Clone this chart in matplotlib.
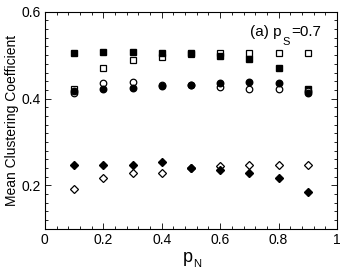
import matplotlib
matplotlib.use("Agg")
import matplotlib.pyplot as plt
from matplotlib.ticker import MultipleLocator

plt.rcParams['font.family'] = ['Liberation Sans', 'DejaVu Sans']

pN = [0.1, 0.2, 0.3, 0.4, 0.5, 0.6, 0.7, 0.8, 0.9]
sq_filled = [0.505, 0.508, 0.508, 0.504, 0.504, 0.498, 0.490, 0.471, 0.423]
sq_open = [0.422, 0.471, 0.489, 0.496, 0.503, 0.506, 0.506, 0.506, 0.506]
ci_filled = [0.418, 0.421, 0.425, 0.429, 0.431, 0.435, 0.438, 0.436, 0.413]
ci_open = [0.412, 0.435, 0.438, 0.432, 0.431, 0.426, 0.423, 0.421, 0.418]
di_filled = [0.246, 0.246, 0.246, 0.254, 0.240, 0.236, 0.229, 0.216, 0.185]
di_open = [0.191, 0.216, 0.229, 0.229, 0.240, 0.244, 0.246, 0.246, 0.248]

W, H = 345, 273
fig = plt.figure(figsize=(W / 100, H / 100), dpi=100)
ax = fig.add_axes([0.130, 0.162, 0.847, 0.795])

ms = 4.3
ax.plot(pN, sq_open, 's', mfc='white', mec='black', ms=ms, mew=0.9, ls='none')
ax.plot(pN, sq_filled, 's', mfc='black', mec='black', ms=ms, ls='none')
ax.plot(pN, ci_open, 'o', mfc='white', mec='black', ms=ms + 0.4, mew=0.9, ls='none')
ax.plot(pN, ci_filled, 'o', mfc='black', mec='black', ms=ms + 0.4, ls='none')
ax.plot(pN, di_open, 'D', mfc='white', mec='black', ms=ms - 0.6, mew=0.9, ls='none')
ax.plot(pN, di_filled, 'D', mfc='black', mec='black', ms=ms - 0.6, ls='none')

ax.set_xlim(0, 1)
ax.set_ylim(0.1, 0.6)
ax.set_xticks([0, 0.2, 0.4, 0.6, 0.8, 1])
ax.set_xticklabels(['0', '0.2', '0.4', '0.6', '0.8', '1'])
ax.set_yticks([0.2, 0.4, 0.6])
ax.set_yticklabels(['0.2', '0.4', '0.6'])
ax.xaxis.set_minor_locator(MultipleLocator(0.04))
ax.yaxis.set_minor_locator(MultipleLocator(0.02))
ax.tick_params(which='both', direction='in', top=True, right=True, labelsize=10, width=0.6, pad=3)
ax.tick_params(which='major', length=4)
ax.tick_params(which='minor', length=2)
for s in ax.spines.values():
    s.set_linewidth(0.8)

ax.set_ylabel('Mean Clustering Coefficient', fontsize=10, labelpad=2)


def put(xpx, ypx, s, size):
    return fig.text(xpx / W, 1 - ypx / H, s, ha='left', va='baseline', fontsize=size)


renderer = fig.canvas.get_renderer()

# annotation "(a) p_S=0.7" (pixel positions, top-left origin)
x = 250
t = put(x, 35.7, '(a) p', 11)
x += t.get_window_extent(renderer).width + 1
t = put(x, 45, 'S', 8)
x += t.get_window_extent(renderer).width + 1
put(x, 35.7, '=0.7', 11)

# x label "p_N"
x = 183
t = put(x, 261.5, 'p', 13)
x += t.get_window_extent(renderer).width + 0.5
put(x, 267, 'N', 8)

fig.savefig('out.png', dpi=100)
